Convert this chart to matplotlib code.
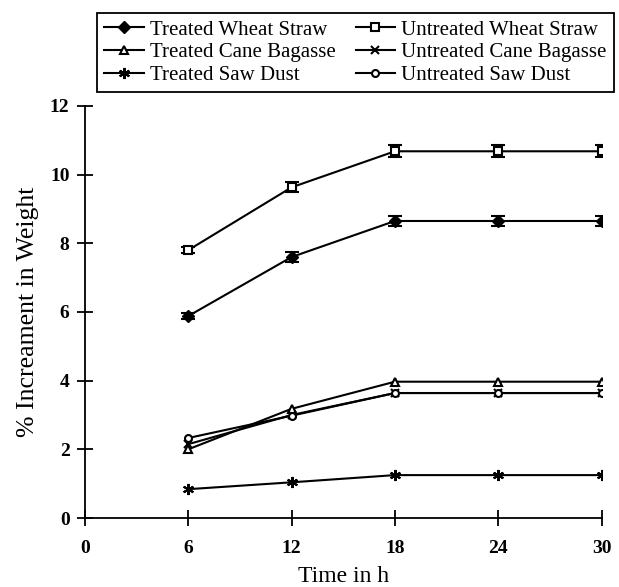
import numpy as np
import matplotlib.pyplot as plt

plt.rcParams['font.family'] = ['Liberation Serif', 'DejaVu Serif']

time_h = [6, 12, 18, 24, 30]

# % increment in weight
treated_wheat = [5.88, 7.6, 8.65, 8.65, 8.65]
untreated_wheat = [7.8, 9.63, 10.68, 10.68, 10.68]
treated_cane = [2.0, 3.18, 3.97, 3.97, 3.97]
untreated_cane = [2.15, 3.0, 3.64, 3.64, 3.64]
treated_saw = [0.84, 1.04, 1.25, 1.25, 1.25]
untreated_saw = [2.33, 2.98, 3.64, 3.64, 3.64]

treated_wheat_err = [0.08, 0.15, 0.15, 0.15, 0.15]
untreated_wheat_err = [0.08, 0.15, 0.17, 0.17, 0.17]

fig = plt.figure(figsize=(6.19, 5.87), dpi=100)
ax = fig.add_axes([0.137, 0.1175, 0.835, 0.702])

common = dict(color='black', lw=1.5, ecolor='black', elinewidth=1.5, capsize=5, capthick=1.5)

h1 = ax.errorbar(time_h, treated_wheat, yerr=treated_wheat_err, marker='D', ms=6,
                 mfc='black', mec='black', label='Treated Wheat Straw', **common)
h2 = ax.errorbar(time_h, untreated_wheat, yerr=untreated_wheat_err, marker='s', ms=6,
                 mfc='white', mec='black', mew=1.5, label='Untreated Wheat Straw', **common)
h3, = ax.plot(time_h, treated_cane, color='black', lw=1.5, marker='^', ms=6,
              mfc='white', mec='black', mew=1.5, label='Treated Cane Bagasse')
h4, = ax.plot(time_h, untreated_cane, color='black', lw=1.5, marker='x', ms=6,
              mew=1.5, label='Untreated Cane Bagasse')
h5, = ax.plot(time_h, treated_saw, color='black', lw=1.5, marker=(6, 2, 0), ms=8,
              mew=1.5, label='Treated Saw Dust')
h6, = ax.plot(time_h, untreated_saw, color='black', lw=1.5, marker='o', ms=5,
              mfc='white', mec='black', mew=1.5, label='Untreated Saw Dust')

ax.set_xlim(0, 30)
ax.set_ylim(0, 12)
ax.set_xticks([0, 6, 12, 18, 24, 30])
ax.set_yticks([0, 2, 4, 6, 8, 10, 12])
ax.spines['top'].set_visible(False)
ax.spines['right'].set_visible(False)
for s in ['left', 'bottom']:
    ax.spines[s].set_linewidth(1.3)
ax.tick_params(direction='inout', length=12, width=1.3, labelsize=14)
ax.tick_params(axis='y', pad=5)
ax.tick_params(axis='x', pad=10)
for lab in ax.get_xticklabels() + ax.get_yticklabels():
    lab.set_fontweight('bold')

ax.set_xlabel('Time in h', fontsize=17, labelpad=6)
ax.set_ylabel('% Increament in Weight', fontsize=18.5, labelpad=8)

leg = fig.legend([h1[0], h3, h5, h2[0], h4, h6],
                 ['Treated Wheat Straw', 'Treated Cane Bagasse', 'Treated Saw Dust',
                  'Untreated Wheat Straw', 'Untreated Cane Bagasse', 'Untreated Saw Dust'],
                 ncol=2, loc='upper left', bbox_to_anchor=(0.157, 0.842, 0.835, 0.136),
                 mode='expand', borderaxespad=0, fontsize=15, fancybox=False,
                 edgecolor='black', framealpha=1,
                 handlelength=1.9, handletextpad=0.3, columnspacing=1.0,
                 labelspacing=0.15, borderpad=0.35)
leg.get_frame().set_linewidth(1.3)

plt.savefig('out.png', dpi=100)
